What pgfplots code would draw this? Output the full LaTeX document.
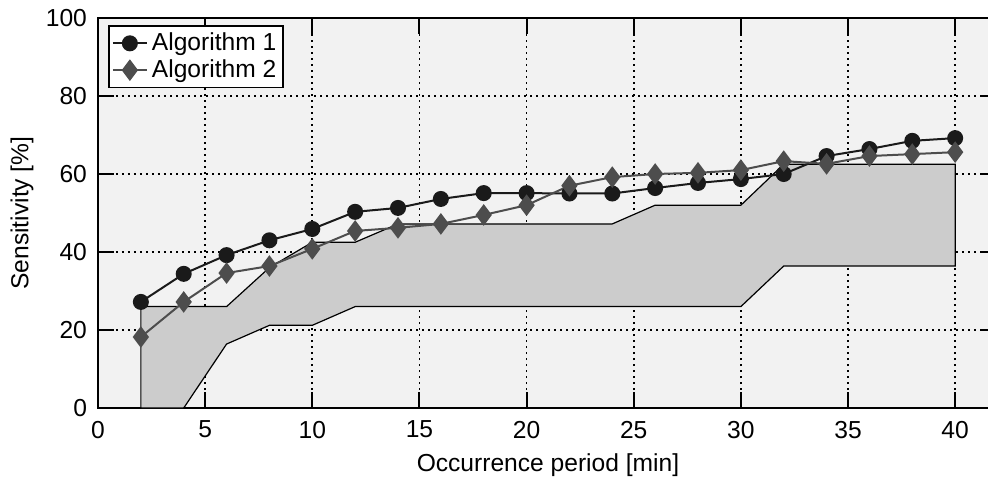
\documentclass[border=0pt]{standalone}
\usepackage{fontspec}
\setmainfont{Liberation Sans}
\usepackage{pgfplots}
\pgfplotsset{compat=1.18}

\definecolor{bgpanel}{HTML}{F2F2F2}
\definecolor{bandfill}{HTML}{CCCCCC}
\definecolor{algone}{HTML}{1A1A1A}
\definecolor{algtwo}{HTML}{4D4D4D}

\newcommand{\chartfont}{\fontsize{12.3pt}{14.5pt}\selectfont}

\begin{document}
\begin{tikzpicture}
\begin{axis}[
  scale only axis,
  width=450pt, height=195pt,
  xmin=0, xmax=42, ymin=0, ymax=100,
  xtick={0,5,...,40}, ytick={0,20,...,100},
  /pgf/number format/assume math mode=true,
  tick label style={font=\chartfont},
  xticklabel style={yshift=-3pt},
  yticklabel style={xshift=-2pt},
  tick align=inside,
  major tick length=8pt,
  every tick/.style={black, line width=1pt},
  axis line style={black, line width=0.7pt},
  axis background/.style={fill=bgpanel},
  grid=major,
  major grid style={black, line width=0.8pt, dash pattern=on 0.8pt off 2.2pt},
  xlabel={Occurrence period [min]},
  ylabel={Sensitivity [\%]},
  every axis x label/.style={at={(axis description cs:0.5,-0.146)}, anchor=center,
    font=\chartfont},
  every axis y label/.style={at={(axis description cs:-0.0845,0.5)}, rotate=90,
    anchor=center, font=\chartfont},
  legend cell align=left,
  legend style={at={(0.011,0.982)}, anchor=north west, draw=black, line width=0.9pt,
    fill=white, inner sep=1.5pt, row sep=-1pt,
    font=\chartfont},
  legend image post style={line width=1pt},
]
% range band between the two reference envelopes
\addplot[draw=black, line width=0.6pt, fill=bandfill, forget plot] coordinates {
  (2,0) (2,26) (6,26) (8,36) (10,42.5) (12,42.5) (14,47.2) (24,47.2)
  (26,52) (30,52) (32,62.5) (40,62.5) (40,36.4) (32,36.4) (30,26)
  (12,26) (10,21.2) (8,21.2) (6,16.4) (4,0)
} -- cycle;

\addplot[algone, line width=1pt, mark=*, mark size=3.5pt,
  mark options={fill=algone, draw=algone}] coordinates {
  (2,27.2) (4,34.4) (6,39.2) (8,43.0) (10,45.9) (12,50.3) (14,51.3)
  (16,53.6) (18,55.1) (20,55.1) (22,55.0) (24,55.0) (26,56.4) (28,57.7)
  (30,58.7) (32,60.0) (34,64.6) (36,66.4) (38,68.5) (40,69.2)
};
\addlegendentry{Algorithm 1}

\addplot[algtwo, line width=1pt, mark=diamond*, mark size=4.6pt,
  mark options={fill=algtwo, draw=algtwo}] coordinates {
  (2,18.2) (4,27.2) (6,34.6) (8,36.4) (10,40.8) (12,45.4) (14,46.2)
  (16,47.2) (18,49.5) (20,52.0) (22,57.0) (24,59.2) (26,60.0) (28,60.3)
  (30,61.0) (32,63.3) (34,62.6) (36,64.6) (38,65.1) (40,65.6)
};
\addlegendentry{Algorithm 2}
\end{axis}
\pgfresetboundingbox
\path[use as bounding box] ([xshift=-49pt, yshift=-36.5pt]current axis.south west)
  rectangle ([xshift=-5pt, yshift=9pt]current axis.north east);
\end{tikzpicture}
\end{document}
